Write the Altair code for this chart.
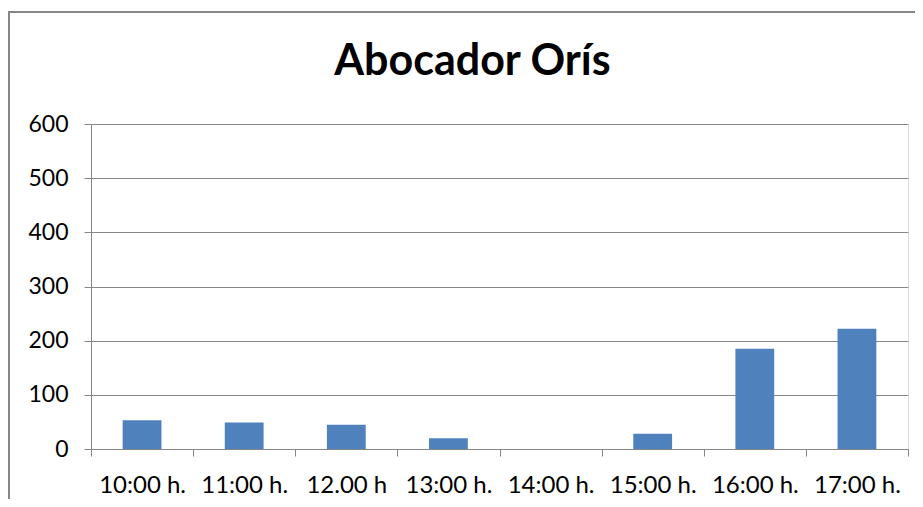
import altair as alt
import pandas as pd

categories = ["10:00 h.", "11:00 h.", "12.00 h", "13:00 h.", "14:00 h.", "15:00 h.", "16:00 h.", "17:00 h."]
values = [53, 49, 45, 20, 0, 28, 185, 222]

df = pd.DataFrame({"hora": categories, "valor": values})

FONT = "Lato"
GRAY = "#868686"

bars = alt.Chart(df).mark_bar(color="#4F81BD", width=alt.RelativeBandSize(0.38)).encode(
    x=alt.X("hora:N", sort=categories,
            scale=alt.Scale(paddingInner=0, paddingOuter=0),
            axis=alt.Axis(title=None, labelAngle=0, tickBand="extent", labelFont=FONT,
                          labelFontSize=24, labelColor="#000000", labelPadding=17,
                          tickSize=7, tickColor=GRAY, domainColor=GRAY, grid=False)),
    y=alt.Y("valor:Q", scale=alt.Scale(domain=[0, 600]),
            axis=alt.Axis(title=None, values=[0, 100, 200, 300, 400, 500, 600],
                          labelFont=FONT, labelFontSize=23, labelColor="#000000",
                          labelPadding=16, tickSize=7, tickColor=GRAY, domainColor=GRAY,
                          gridColor=GRAY, gridWidth=1)),
)

frame = alt.Chart(df).mark_rect(fill=None, stroke=GRAY, strokeWidth=1.5).encode(
    x=alt.value(-82), x2=alt.value(940), y=alt.value(-112), y2=alt.value(480)
)

chart = alt.layer(frame, bars).properties(
    width=817, height=325,
    title=alt.TitleParams("Abocador Orís", font=FONT, fontSize=43, fontWeight="bold",
                          color="#000000", anchor="middle", offset=-73, dx=-27),
    autosize=alt.AutoSizeParams(type="none"),
    padding={"left": 83, "top": 116, "right": 7, "bottom": 50},
).configure_view(stroke=None).configure(background="white")

chart.save("out.html", embed_options={"renderer": "svg", "actions": False})
